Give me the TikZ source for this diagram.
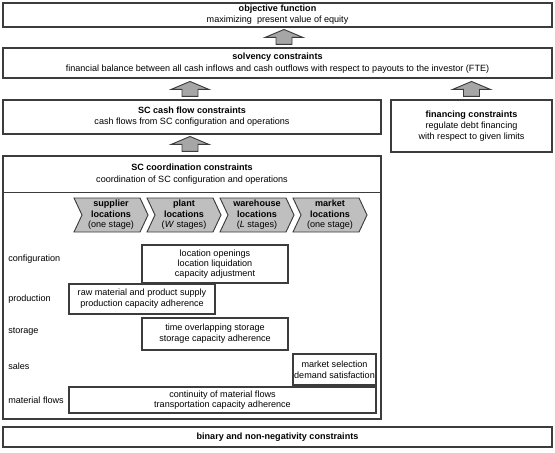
\documentclass[tikz,border=0pt]{standalone}
\usepackage{fontspec}
\setmainfont{Liberation Sans}
\usetikzlibrary{calc}
\definecolor{edge}{RGB}{60,60,60}
\definecolor{arrowgray}{RGB}{166,166,166}
\definecolor{chevgray}{RGB}{191,191,191}
\newcommand\blockarrow[1]{\draw[barrow] (#1) -- ++(8,0) -- ++(0,-7) -- ++(11,0) -- ++(-19,-8) -- ++(-19,8) -- ++(11,0) -- ++(0,7) -- cycle;}
\newcommand\chevron[1]{\draw[chev] ($(#1)+(-37,-17)$) -- ($(#1)+(29,-17)$) -- ($(#1)+(37,0)$) -- ($(#1)+(29,17)$) -- ($(#1)+(-37,17)$) -- ($(#1)+(-29,0)$) -- cycle;}
\begin{document}
\begin{tikzpicture}[x=0.75pt,y=-0.75pt,
  txt/.style={inner sep=0pt, align=center, font=\fontsize{6.8}{8.4}\selectfont},
  box/.style={txt, draw=edge, line width=0.8pt},
  lbl/.style={inner sep=0pt, anchor=west, font=\fontsize{6.8}{8}\selectfont},
  barrow/.style={draw=edge, line width=0.7pt, fill=arrowgray, line join=miter},
  chev/.style={draw=edge, line width=0.7pt, fill=chevgray, line join=miter},
  chevtxt/.style={inner sep=0pt, align=center, font=\fontsize{6.8}{7.9}\selectfont}
]
\useasboundingbox (0,0) rectangle (555,452);

\node[box, minimum width=411.75pt, minimum height=18pt] (obj) at (277.5,15)
  {\textbf{objective function}\\maximizing~ present value of equity};
\node[box, minimum width=411.75pt, minimum height=22.5pt, font=\fontsize{6.8}{9.2}\selectfont] (solv) at (277.5,63)
  {\textbf{solvency constraints}\\financial balance between all cash inflows and cash outflows with respect to payouts to the investor (FTE)};
\node[box, minimum width=283.5pt, minimum height=25.5pt] (cash) at (192,117)
  {\textbf{SC cash flow constraints}\\cash flows from SC configuration and operations};
\node[box, minimum width=120.75pt, minimum height=39pt] (fin) at (471.5,126)
  {\textbf{financing constraints}\\regulate debt financing\\with respect to given limits};
\node[box, minimum width=283.5pt, minimum height=197.25pt] (coord) at (192,287.5) {};
\node[txt, font=\fontsize{6.8}{9.2}\selectfont] (coordhead) at (192,174)
  {\textbf{SC coordination constraints}\\coordination of SC configuration and operations};
\draw[draw=edge, line width=0.8pt] ($(coord.north west)+(0,37)$) -- ($(coord.north east)+(0,37)$);

% chevrons
\coordinate (c1) at (111,215);
\coordinate (c2) at (184,215);
\coordinate (c3) at (257,215);
\coordinate (c4) at (330,215);
\chevron{c1}\chevron{c2}\chevron{c3}\chevron{c4}
\node[chevtxt] (sup) at (c1) {\textbf{supplier}\\\textbf{locations}\\(one stage)};
\node[chevtxt] (pla) at (c2) {\textbf{plant}\\\textbf{locations}\\(\textit{W} stages)};
\node[chevtxt] (war) at (c3) {\textbf{warehouse}\\\textbf{locations}\\(\textit{L} stages)};
\node[chevtxt] (mar) at (c4) {\textbf{market}\\\textbf{locations}\\(one stage)};

% rows
\node[lbl] (lconf) at (8,259) {configuration};
\node[lbl] (lprod) at (8,299) {production};
\node[lbl] (lstor) at (8,332) {storage};
\node[lbl] (lsale) at (8,366) {sales};
\node[lbl] (lmat) at (8,400) {material flows};

\node[box, minimum width=109.5pt, minimum height=28.5pt, font=\fontsize{6.8}{7.6}\selectfont] (conf) at (215,264)
  {location openings\\location liquidation\\capacity adjustment};
\node[box, minimum width=109.5pt, minimum height=22.5pt] (prod) at (142,299)
  {raw material and product supply\\production capacity adherence};
\node[box, minimum width=109.5pt, minimum height=24pt] (stor) at (215,334)
  {time overlapping storage\\storage capacity adherence};
\node[box, minimum width=62.25pt, minimum height=23.25pt] (sale) at (334.5,369.5)
  {market selection\\demand satisfaction};
\node[box, minimum width=230.25pt, minimum height=19.5pt, font=\fontsize{6.8}{8}\selectfont] (mat) at (222.5,400)
  {continuity of material flows\\transportation capacity adherence};

\node[box, minimum width=411.75pt, minimum height=15pt] (bin) at (277.5,437)
  {\textbf{binary and non-negativity constraints}};

% block arrows
\coordinate (a1) at ($(solv.north)+(6.5,-3)$);
\coordinate (a2) at ($(cash.north)+(-2,-3)$);
\coordinate (a3) at ($(fin.north)+(0,-3)$);
\coordinate (a4) at ($(coord.north)+(-2,-4)$);
\blockarrow{a1}\blockarrow{a2}\blockarrow{a3}\blockarrow{a4}
\end{tikzpicture}
\end{document}
